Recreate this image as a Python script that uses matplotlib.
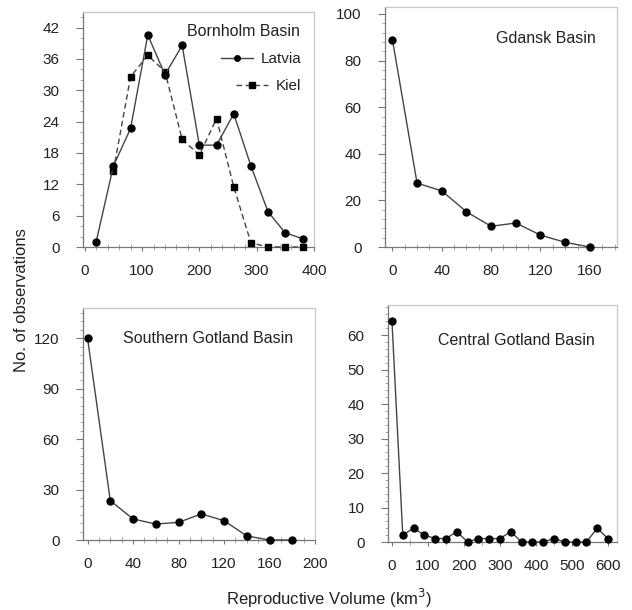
import numpy as np
import matplotlib
matplotlib.use("Agg")
import matplotlib.pyplot as plt
from matplotlib.ticker import AutoMinorLocator

plt.rcParams['font.family'] = ['Liberation Sans', 'DejaVu Sans']

# Bornholm Basin
born_x_latvia = [20, 50, 80, 110, 140, 170, 200, 230, 260, 290, 320, 350, 380]
born_latvia = [1, 15.5, 22.7, 40.6, 33, 38.6, 19.5, 19.5, 25.5, 15.5, 6.7, 2.7, 1.6]
born_x_kiel = [50, 80, 110, 140, 170, 200, 230, 260, 290, 320, 350, 380]
born_kiel = [14.6, 32.6, 36.7, 33.6, 20.6, 17.6, 24.6, 11.5, 0.8, 0, 0, 0]

# Gdansk Basin
gdansk_x = [0, 20, 40, 60, 80, 100, 120, 140, 160]
gdansk_y = [89, 27.4, 24.1, 15.1, 8.9, 10.3, 5.1, 2, 0]

# Southern Gotland Basin
sgot_x = [0, 20, 40, 60, 80, 100, 120, 140, 160, 180]
sgot_y = [120, 23.4, 12.5, 9.5, 10.5, 15.5, 11.5, 2.4, 0, 0]

# Central Gotland Basin
cgot_x = [0, 30, 60, 90, 120, 150, 180, 210, 240, 270, 300, 330, 360, 390,
          420, 450, 480, 510, 540, 570, 600]
cgot_y = [64, 2, 4, 2, 1, 1, 3, 0, 1, 1, 1, 3, 0, 0, 0, 1, 0, 0, 0, 4, 1]

W, H = 632, 610
fig = plt.figure(figsize=(W / 100, H / 100), dpi=100)


def make_ax(left, right, top, bottom):
    return fig.add_axes([left / W, 1 - bottom / H, (right - left) / W, (bottom - top) / H])


def style(ax, xlim, ylim, xticks, yticks, xminor, yminor):
    ax.set_xlim(*xlim)
    ax.set_ylim(*ylim)
    ax.set_xticks(xticks)
    ax.set_yticks(yticks)
    ax.xaxis.set_minor_locator(AutoMinorLocator(xminor))
    ax.yaxis.set_minor_locator(AutoMinorLocator(yminor))
    for s in ['top', 'right']:
        ax.spines[s].set_color('#c8c8c8')
        ax.spines[s].set_linewidth(0.9)
    for s in ['left', 'bottom']:
        ax.spines[s].set_color('#777777')
        ax.spines[s].set_linewidth(0.9)
    ax.tick_params(axis='x', which='major', direction='out', length=3, pad=9,
                   labelsize=11, color='#777777', labelcolor='#222222')
    ax.tick_params(axis='x', which='minor', direction='inout', length=4, color='#999999')
    ax.tick_params(axis='y', which='major', direction='out', length=5, pad=12,
                   labelsize=11, color='#777777', labelcolor='#222222')
    ax.tick_params(axis='y', which='minor', direction='out', length=2.5, color='#999999')


line_kw = dict(color='#444444', lw=1.0, marker='o', ms=5, mfc='black',
               mec='black', clip_on=False, zorder=3)

# top-left
ax1 = make_ax(83, 314, 12, 247)
kiel, = ax1.plot(born_x_kiel, born_kiel, ls=(0, (4, 2.5)),
                 **{**line_kw, 'marker': 's', 'ms': 5}, label='Kiel')
latvia, = ax1.plot(born_x_latvia, born_latvia, ls='-', **line_kw, label='Latvia')
style(ax1, (-3, 400), (0, 45), [0, 100, 200, 300, 400], range(0, 43, 6), 5, 3)
ax1.text(0.94, 0.915, 'Bornholm Basin', transform=ax1.transAxes, ha='right',
         va='center', fontsize=11.5, color='#222222')
leg_kw = dict(loc='upper right', frameon=False, fontsize=11, handlelength=2.1,
              handletextpad=0.5, borderaxespad=0, borderpad=0, markerscale=0.8,
              labelcolor='#222222')
leg1 = ax1.legend([latvia], ['Latvia'], bbox_to_anchor=(0.945, 0.83), **leg_kw)
ax1.add_artist(leg1)
ax1.legend([kiel], ['Kiel'], bbox_to_anchor=(0.945, 0.715), **leg_kw)

# top-right
ax2 = make_ax(385, 617, 7, 247)
ax2.plot(gdansk_x, gdansk_y, ls='-', **line_kw)
style(ax2, (-6, 182), (0, 103), [0, 40, 80, 120, 160], [0, 20, 40, 60, 80, 100], 4, 5)
ax2.text(0.909, 0.87, 'Gdansk Basin', transform=ax2.transAxes, ha='right',
         va='center', fontsize=11.5, color='#222222')

# bottom-left
ax3 = make_ax(83, 315, 308, 540)
ax3.plot(sgot_x, sgot_y, ls='-', **line_kw)
style(ax3, (-4, 198), (0, 138), [0, 40, 80, 120, 160, 200], [0, 30, 60, 90, 120], 4, 6)
ax3.text(0.905, 0.87, 'Southern Gotland Basin', transform=ax3.transAxes, ha='right',
         va='center', fontsize=11.5, color='#222222')

# bottom-right
ax4 = make_ax(388, 617, 305, 542)
ax4.plot(cgot_x, cgot_y, ls='-', **line_kw)
style(ax4, (-11, 625), (0, 68.7), [0, 100, 200, 300, 400, 500, 600],
      [0, 10, 20, 30, 40, 50, 60], 2, 5)
ax4.text(0.904, 0.85, 'Central Gotland Basin', transform=ax4.transAxes, ha='right',
         va='center', fontsize=11.5, color='#222222')

fig.text(22 / W, 1 - 300 / H, 'No. of observations', rotation=90, ha='center',
         va='center', fontsize=12, color='#222222')
fig.text(329 / W, 1 - 598 / H, 'Reproductive Volume (km$^3$)', ha='center',
         va='center', fontsize=12, color='#222222')

fig.savefig('out.png', dpi=100)
